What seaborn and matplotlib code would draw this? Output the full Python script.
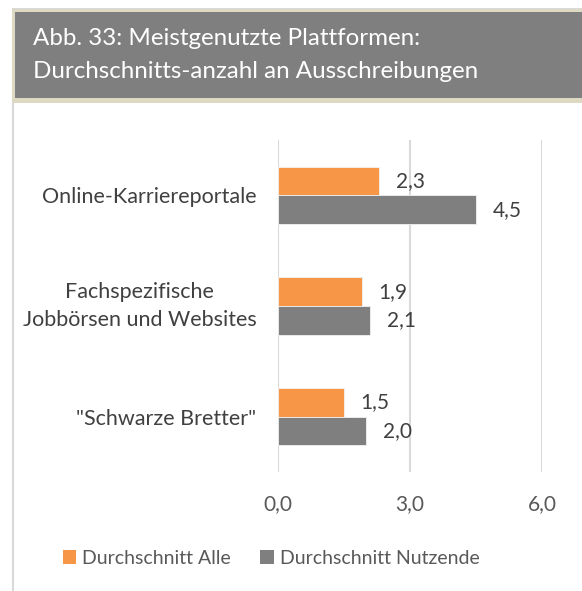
import pandas as pd
import seaborn as sns
import matplotlib.pyplot as plt
from matplotlib.patches import Rectangle
from matplotlib.lines import Line2D

# chart data
categories = ['Online-Karriereportale', 'Fachspezifische\nJobbörsen und Websites', '"Schwarze Bretter"']
series_names = ['Durchschnitt Alle', 'Durchschnitt Nutzende']
werte_alle = [2.3, 1.9, 1.5]
werte_nutzende = [4.5, 2.1, 2.0]
x_ticks = [0, 3, 6]
title = 'Abb. 33: Meistgenutzte Plattformen:\nDurchschnitts-anzahl an Ausschreibungen'

colors = ['#f79646', '#7f7f7f']

df = pd.DataFrame({
    'Plattform': categories * 2,
    'Serie': [series_names[0]] * 3 + [series_names[1]] * 3,
    'Wert': werte_alle + werte_nutzende,
})

sns.set_theme(style='white')
plt.rcParams['font.family'] = ['Lato', 'DejaVu Sans']

W, H = 582, 591
fig = plt.figure(figsize=(W / 100, H / 100), dpi=100)

def px(x0, y0, x1, y1):
    # pixel box (top-left origin) -> figure fraction rect
    return [x0 / W, 1 - y1 / H, (x1 - x0) / W, (y1 - y0) / H]

# title box
fig.patches.append(Rectangle((12 / W, 1 - 9 / H), 570 / W, 1 / H, transform=fig.transFigure,
                             facecolor='#d9d9d9', edgecolor='none'))
fig.patches.append(Rectangle((12 / W, 1 - 103 / H), 570 / W, 94 / H, transform=fig.transFigure,
                             facecolor='#ddd9c3', edgecolor='none'))
fig.patches.append(Rectangle((15 / W, 1 - 98 / H), 567 / W, 86 / H, transform=fig.transFigure,
                             facecolor='#7f7f7f', edgecolor='none'))
fig.text(33 / W, 1 - 55 / H, title, color='white', fontsize=17.4, va='center', ha='left',
         linespacing=1.72)

# left frame line
fig.add_artist(Line2D([12.5 / W, 12.5 / W], [0, 1 - 103 / H], transform=fig.transFigure,
                      color='#d9d9d9', lw=1.5))

ax = fig.add_axes(px(278, 140, 542, 472))
sns.barplot(data=df, y='Plattform', x='Wert', hue='Serie', palette=colors, orient='h',
            width=0.52, saturation=1, ax=ax, edgecolor='#f2f2f2', linewidth=0.6, legend=False)

for cont in ax.containers:
    ax.bar_label(cont, labels=[f'{v:.1f}'.replace('.', ',') for v in cont.datavalues],
                 padding=12, fontsize=15, color='#404040')

ax.set_xlim(0, 6)
ax.set_ylim(2.5, -0.5)
ax.set_xticks(x_ticks)
ax.set_xticklabels([f'{t:.1f}'.replace('.', ',') for t in x_ticks], fontsize=15, color='#595959')
ax.tick_params(axis='x', length=0, pad=16)
ax.tick_params(axis='y', length=0, pad=15.5, labelsize=15.5, labelcolor='#404040')
for lbl in ax.get_yticklabels():
    lbl.set_multialignment('center')
    lbl.set_linespacing(1.55)
    if '\n' in lbl.get_text():
        lbl.set_verticalalignment('center')
ax.set_xlabel('')
ax.set_ylabel('')
ax.grid(axis='x', color='#d9d9d9', lw=1.5)
ax.set_axisbelow(True)
for s in ax.spines.values():
    s.set_visible(False)

handles = [Rectangle((0, 0), 1, 1, facecolor=c, edgecolor='none') for c in colors]
fig.legend(handles, series_names, loc='center', bbox_to_anchor=(271 / W, 1 - 558 / H),
           ncol=2, frameon=False, fontsize=14, handlelength=0.7, handleheight=0.7,
           handletextpad=0.3, columnspacing=1.5, labelcolor='#595959')

fig.savefig('out.png', dpi=100)
